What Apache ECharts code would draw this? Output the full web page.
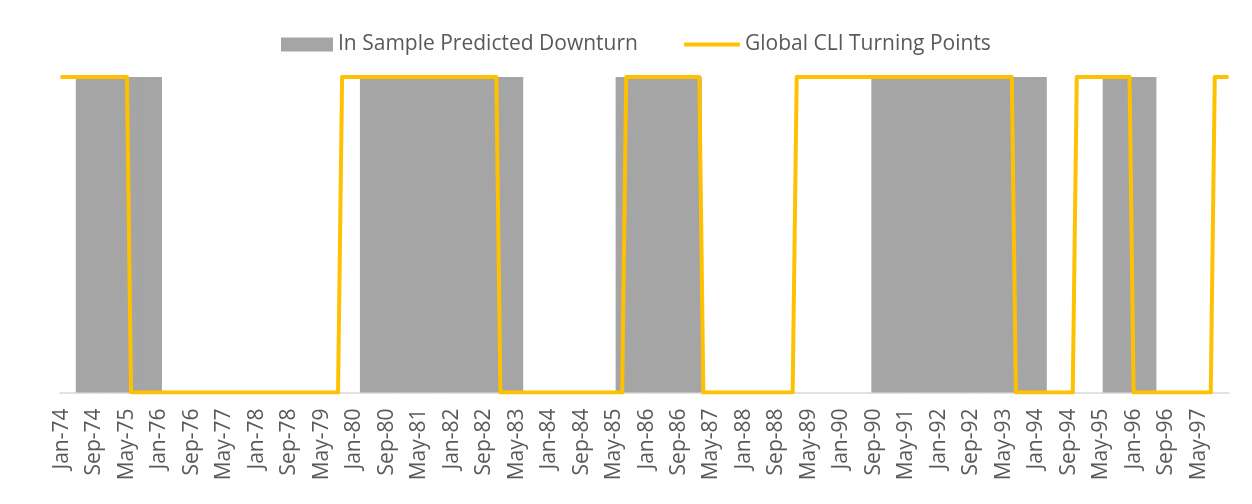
<!DOCTYPE html>
<html>
<head>
<meta charset="utf-8">
<script src="https://cdn.jsdelivr.net/npm/echarts@6/dist/echarts.min.js"></script>
<style>
html,body{margin:0;padding:0;background:#fff;}
#chart{width:1252px;height:504px;}
</style>
</head>
<body>
<div id="chart"></div>
<script>
// Month names and years for the category axis (Jan-74 .. Dec-97)
const monthNames = ['Jan','Feb','Mar','Apr','May','Jun','Jul','Aug','Sep','Oct','Nov','Dec'];
const years = ['74','75','76','77','78','79','80','81','82','83','84','85','86','87','88','89','90','91','92','93','94','95','96','97'];

// In Sample Predicted Downturn (1 = downturn predicted), one row per year, Jan..Dec
const downturnByYear = [
  [0,0,0,0,1,1,1,1,1,1,1,1], // 74
  [1,1,1,1,1,1,1,1,1,1,1,1], // 75
  [1,0,0,0,0,0,0,0,0,0,0,0], // 76
  [0,0,0,0,0,0,0,0,0,0,0,0], // 77
  [0,0,0,0,0,0,0,0,0,0,0,0], // 78
  [0,0,0,0,0,0,0,0,0,0,0,0], // 79
  [0,0,1,1,1,1,1,1,1,1,1,1], // 80
  [1,1,1,1,1,1,1,1,1,1,1,1], // 81
  [1,1,1,1,1,1,1,1,1,1,1,1], // 82
  [1,1,1,1,1,1,0,0,0,0,0,0], // 83
  [0,0,0,0,0,0,0,0,0,0,0,0], // 84
  [0,0,0,0,0,1,1,1,1,1,1,1], // 85
  [1,1,1,1,1,1,1,1,1,1,1,1], // 86
  [1,1,0,0,0,0,0,0,0,0,0,0], // 87
  [0,0,0,0,0,0,0,0,0,0,0,0], // 88
  [0,0,0,0,0,0,0,0,0,0,0,0], // 89
  [0,0,0,0,0,0,0,0,1,1,1,1], // 90
  [1,1,1,1,1,1,1,1,1,1,1,1], // 91
  [1,1,1,1,1,1,1,1,1,1,1,1], // 92
  [1,1,1,1,1,1,1,1,1,1,1,1], // 93
  [1,1,1,0,0,0,0,0,0,0,0,0], // 94
  [0,0,0,0,0,1,1,1,1,1,1,1], // 95
  [1,1,1,1,1,1,0,0,0,0,0,0], // 96
  [0,0,0,0,0,0,0,0,0,0,0,0]  // 97
];

// Global CLI Turning Points (1 / 0), one row per year, Jan..Dec
const cliByYear = [
  [1,1,1,1,1,1,1,1,1,1,1,1], // 74
  [1,1,1,1,1,0,0,0,0,0,0,0], // 75
  [0,0,0,0,0,0,0,0,0,0,0,0], // 76
  [0,0,0,0,0,0,0,0,0,0,0,0], // 77
  [0,0,0,0,0,0,0,0,0,0,0,0], // 78
  [0,0,0,0,0,0,0,0,0,1,1,1], // 79
  [1,1,1,1,1,1,1,1,1,1,1,1], // 80
  [1,1,1,1,1,1,1,1,1,1,1,1], // 81
  [1,1,1,1,1,1,1,1,1,1,1,1], // 82
  [0,0,0,0,0,0,0,0,0,0,0,0], // 83
  [0,0,0,0,0,0,0,0,0,0,0,0], // 84
  [0,0,0,0,0,0,0,1,1,1,1,1], // 85
  [1,1,1,1,1,1,1,1,1,1,1,1], // 86
  [1,1,0,0,0,0,0,0,0,0,0,0], // 87
  [0,0,0,0,0,0,0,0,0,0,0,0], // 88
  [0,1,1,1,1,1,1,1,1,1,1,1], // 89
  [1,1,1,1,1,1,1,1,1,1,1,1], // 90
  [1,1,1,1,1,1,1,1,1,1,1,1], // 91
  [1,1,1,1,1,1,1,1,1,1,1,1], // 92
  [1,1,1,1,1,1,1,0,0,0,0,0], // 93
  [0,0,0,0,0,0,0,0,0,0,1,1], // 94
  [1,1,1,1,1,1,1,1,1,1,1,1], // 95
  [0,0,0,0,0,0,0,0,0,0,0,0], // 96
  [0,0,0,0,0,0,0,0,1,1,1,1]  // 97
];

const seriesNames = ['In Sample Predicted Downturn', 'Global CLI Turning Points'];

const categories = [];
years.forEach(y => monthNames.forEach(m => categories.push(m + '-' + y)));
// zero months are left empty for the bars so no zero-height slivers are drawn
const downturn = downturnByYear.flat().map(v => (v === 0 ? '-' : v));
const cli = cliByYear.flat();

const FONT = 'Open Sans';
const chart = echarts.init(document.getElementById('chart'), null, {renderer: 'canvas'});
chart.setOption({
  animation: false,
  backgroundColor: '#ffffff',
  textStyle: {fontFamily: FONT},
  grid: {left: 60, right: 23, top: 77, bottom: 111.5},
  legend: [
    {
      data: [{name: seriesNames[0], icon: 'rect'}],
      left: 276, top: 29,
      itemWidth: 52, itemHeight: 14,
      itemStyle: {color: '#a5a5a5', borderWidth: 0},
      textStyle: {fontFamily: FONT, fontSize: 21, color: '#595959'},
      selectedMode: false
    },
    {
      data: [{name: seriesNames[1], icon: 'roundRect'}],
      left: 679, top: 29,
      itemWidth: 56, itemHeight: 4,
      textStyle: {fontFamily: FONT, fontSize: 21, color: '#595959'},
      selectedMode: false
    }
  ],
  xAxis: {
    type: 'category',
    data: categories,
    boundaryGap: true,
    axisLine: {show: true, lineStyle: {color: '#d9d9d9', width: 1.5}},
    axisTick: {show: false},
    axisLabel: {
      interval: 7,
      rotate: 90,
      margin: 16,
      color: '#595959',
      fontFamily: FONT,
      fontSize: 21
    },
    splitLine: {show: false}
  },
  yAxis: {
    type: 'value',
    min: 0, max: 1,
    show: false,
    splitLine: {show: false}
  },
  series: [
    {
      name: seriesNames[0],
      type: 'bar',
      data: downturn,
      barWidth: 5,
      itemStyle: {color: '#a5a5a5', borderWidth: 0},
      z: 2
    },
    {
      name: seriesNames[1],
      type: 'line',
      data: cli,
      symbol: 'none',
      itemStyle: {color: '#ffc000'},
      lineStyle: {color: '#ffc000', width: 4, join: 'round', cap: 'round'},
      z: 3
    }
  ]
});
</script>
</body>
</html>
